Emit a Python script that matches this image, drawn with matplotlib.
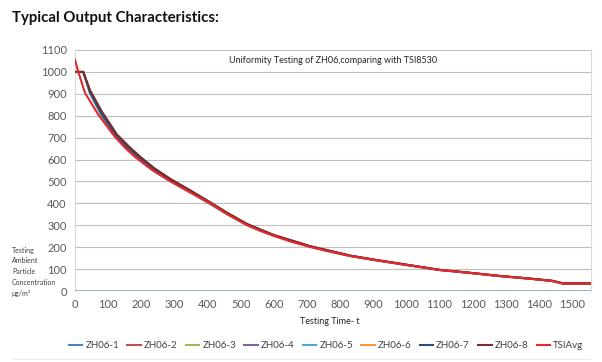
import matplotlib
matplotlib.use("Agg")
import matplotlib.pyplot as plt

plt.rcParams["font.family"] = ["Lato", "DejaVu Sans"]

# time axis for the ZH06 sensors (s)
t_zh = [0, 25, 45, 80, 126, 160, 196, 240, 290, 350, 405, 460, 520, 600, 710,
        830, 906, 1000, 1100, 1183, 1283, 1374, 1440, 1473, 1557]

zh06_1 = [0, 0, 0, 0, 0, 0, 0, 0, 0, 0, 0, 0, 0, 0, 0, 0, 0, 0, 0, 0, 0, 0, 0, 0, 0]
zh06_2 = [1000, 1000, 905, 805, 702, 650, 603, 550, 502, 450, 402, 352, 302, 254, 203, 161, 141, 119, 96, 84, 68, 56, 46, 34, 34]
zh06_3 = [1000, 1000, 910, 812, 708, 655, 606, 553, 505, 452, 404, 353, 303, 253, 202, 160, 142, 120, 97, 85, 69, 57, 47, 35, 35]
zh06_4 = [1000, 1000, 915, 818, 712, 660, 610, 558, 508, 455, 406, 355, 304, 255, 204, 162, 142, 120, 96, 84, 68, 56, 46, 34, 34]
zh06_5 = [1000, 1000, 900, 798, 695, 645, 598, 545, 498, 447, 398, 349, 299, 251, 201, 159, 140, 118, 95, 83, 67, 55, 45, 33, 33]
zh06_6 = [1000, 1000, 912, 815, 706, 652, 604, 551, 503, 451, 401, 351, 301, 252, 202, 160, 141, 119, 96, 84, 68, 56, 46, 34, 34]
zh06_7 = [1000, 1000, 908, 808, 704, 653, 605, 552, 504, 453, 403, 352, 302, 253, 203, 161, 141, 119, 96, 84, 68, 56, 46, 34, 34]
zh06_8 = [1000, 1000, 918, 822, 716, 664, 614, 560, 510, 458, 408, 357, 306, 256, 205, 162, 143, 121, 97, 85, 69, 57, 47, 35, 35]

# TSI8530 reference
t_tsi = [0, 10, 30, 50, 70, 90, 116, 150, 181, 230, 285, 350, 408, 460, 520, 560,
         600, 650, 710, 770, 830, 906, 1000, 1100, 1183, 1283, 1374, 1440, 1473, 1557]
tsi_avg = [1055, 1000, 905, 855, 805, 765, 712, 655, 612, 555, 503, 448, 400, 350, 300, 274,
           252, 226, 201, 179, 160, 141, 119, 96, 84, 68, 56, 46, 34, 34]

names = ["ZH06-1", "ZH06-2", "ZH06-3", "ZH06-4", "ZH06-5", "ZH06-6", "ZH06-7", "ZH06-8", "TSIAvg"]
colors = ["#8FA8C8", "#C0504D", "#9BBB59", "#8064A2", "#4BACC6", "#F79646", "#2C4D75", "#772C2A", "#E8262B"]
legend_colors = ["#4F81BD"] + colors[1:]
ylabel_lines = ["Testing", "Ambient", "Particle", "Concentration", "μg/m³"]

fig = plt.figure(figsize=(6.02, 3.62), dpi=100)
ax = fig.add_axes([75 / 602, 1 - 291 / 362, 516 / 602, 241 / 362])

series = [zh06_1, zh06_2, zh06_3, zh06_4, zh06_5, zh06_6, zh06_7, zh06_8]
for i, ys in enumerate(series):
    ax.plot(t_zh, ys, color=colors[i], lw=1.4 if i else 2.0, zorder=3)
ax.plot(t_tsi, tsi_avg, color=colors[8], lw=1.5, zorder=4)

ax.set_xlim(0, 1557)
ax.set_ylim(0, 1100)
ax.set_xticks(range(0, 1501, 100))
ax.set_yticks(range(0, 1101, 100))
ax.grid(axis="y", color="#BFBFBF", lw=0.8)
ax.set_axisbelow(True)
for s in ["top", "bottom"]:
    ax.spines[s].set_visible(False)
for s in ["left", "right"]:
    ax.spines[s].set_color("#D9D9D9")
    ax.spines[s].set_linewidth(0.8)
ax.tick_params(length=0, labelsize=8, labelcolor="#595959", pad=6)

ax.text(0.5, 0.955, "Uniformity Testing of ZH06,comparing with TSI8530",
        transform=ax.transAxes, ha="center", va="center", fontsize=6.5, color="#262626")

fig.text(12 / 602, 1 - 18 / 362, "Typical Output Characteristics:",
         fontsize=10.8, fontweight="bold", va="center", ha="left", color="#111111")
fig.text(330 / 602, 1 - 322 / 362, "Testing Time- t", fontsize=6.5,
         ha="center", va="center", color="#262626")
# y label drawn line by line, as in the source
for k, line in enumerate(ylabel_lines):
    fig.text(12 / 602, 1 - (250 + 10.8 * k) / 362, line,
             fontsize=5, ha="left", va="center", color="#404040")

handles = [plt.Line2D([], [], color=c, lw=1.5) for c in legend_colors]
fig.legend(handles, names, loc="center", bbox_to_anchor=(326 / 602, 1 - 346 / 362),
           ncol=9, frameon=False, fontsize=7, handlelength=1.4, handletextpad=0.3,
           columnspacing=0.85, labelcolor="#404040")

fig.add_artist(plt.Line2D([13 / 602, 590 / 602], [1 - 359 / 362] * 2,
                          color="#EBEBEB", lw=0.8))

fig.savefig("out.png", dpi=100)
